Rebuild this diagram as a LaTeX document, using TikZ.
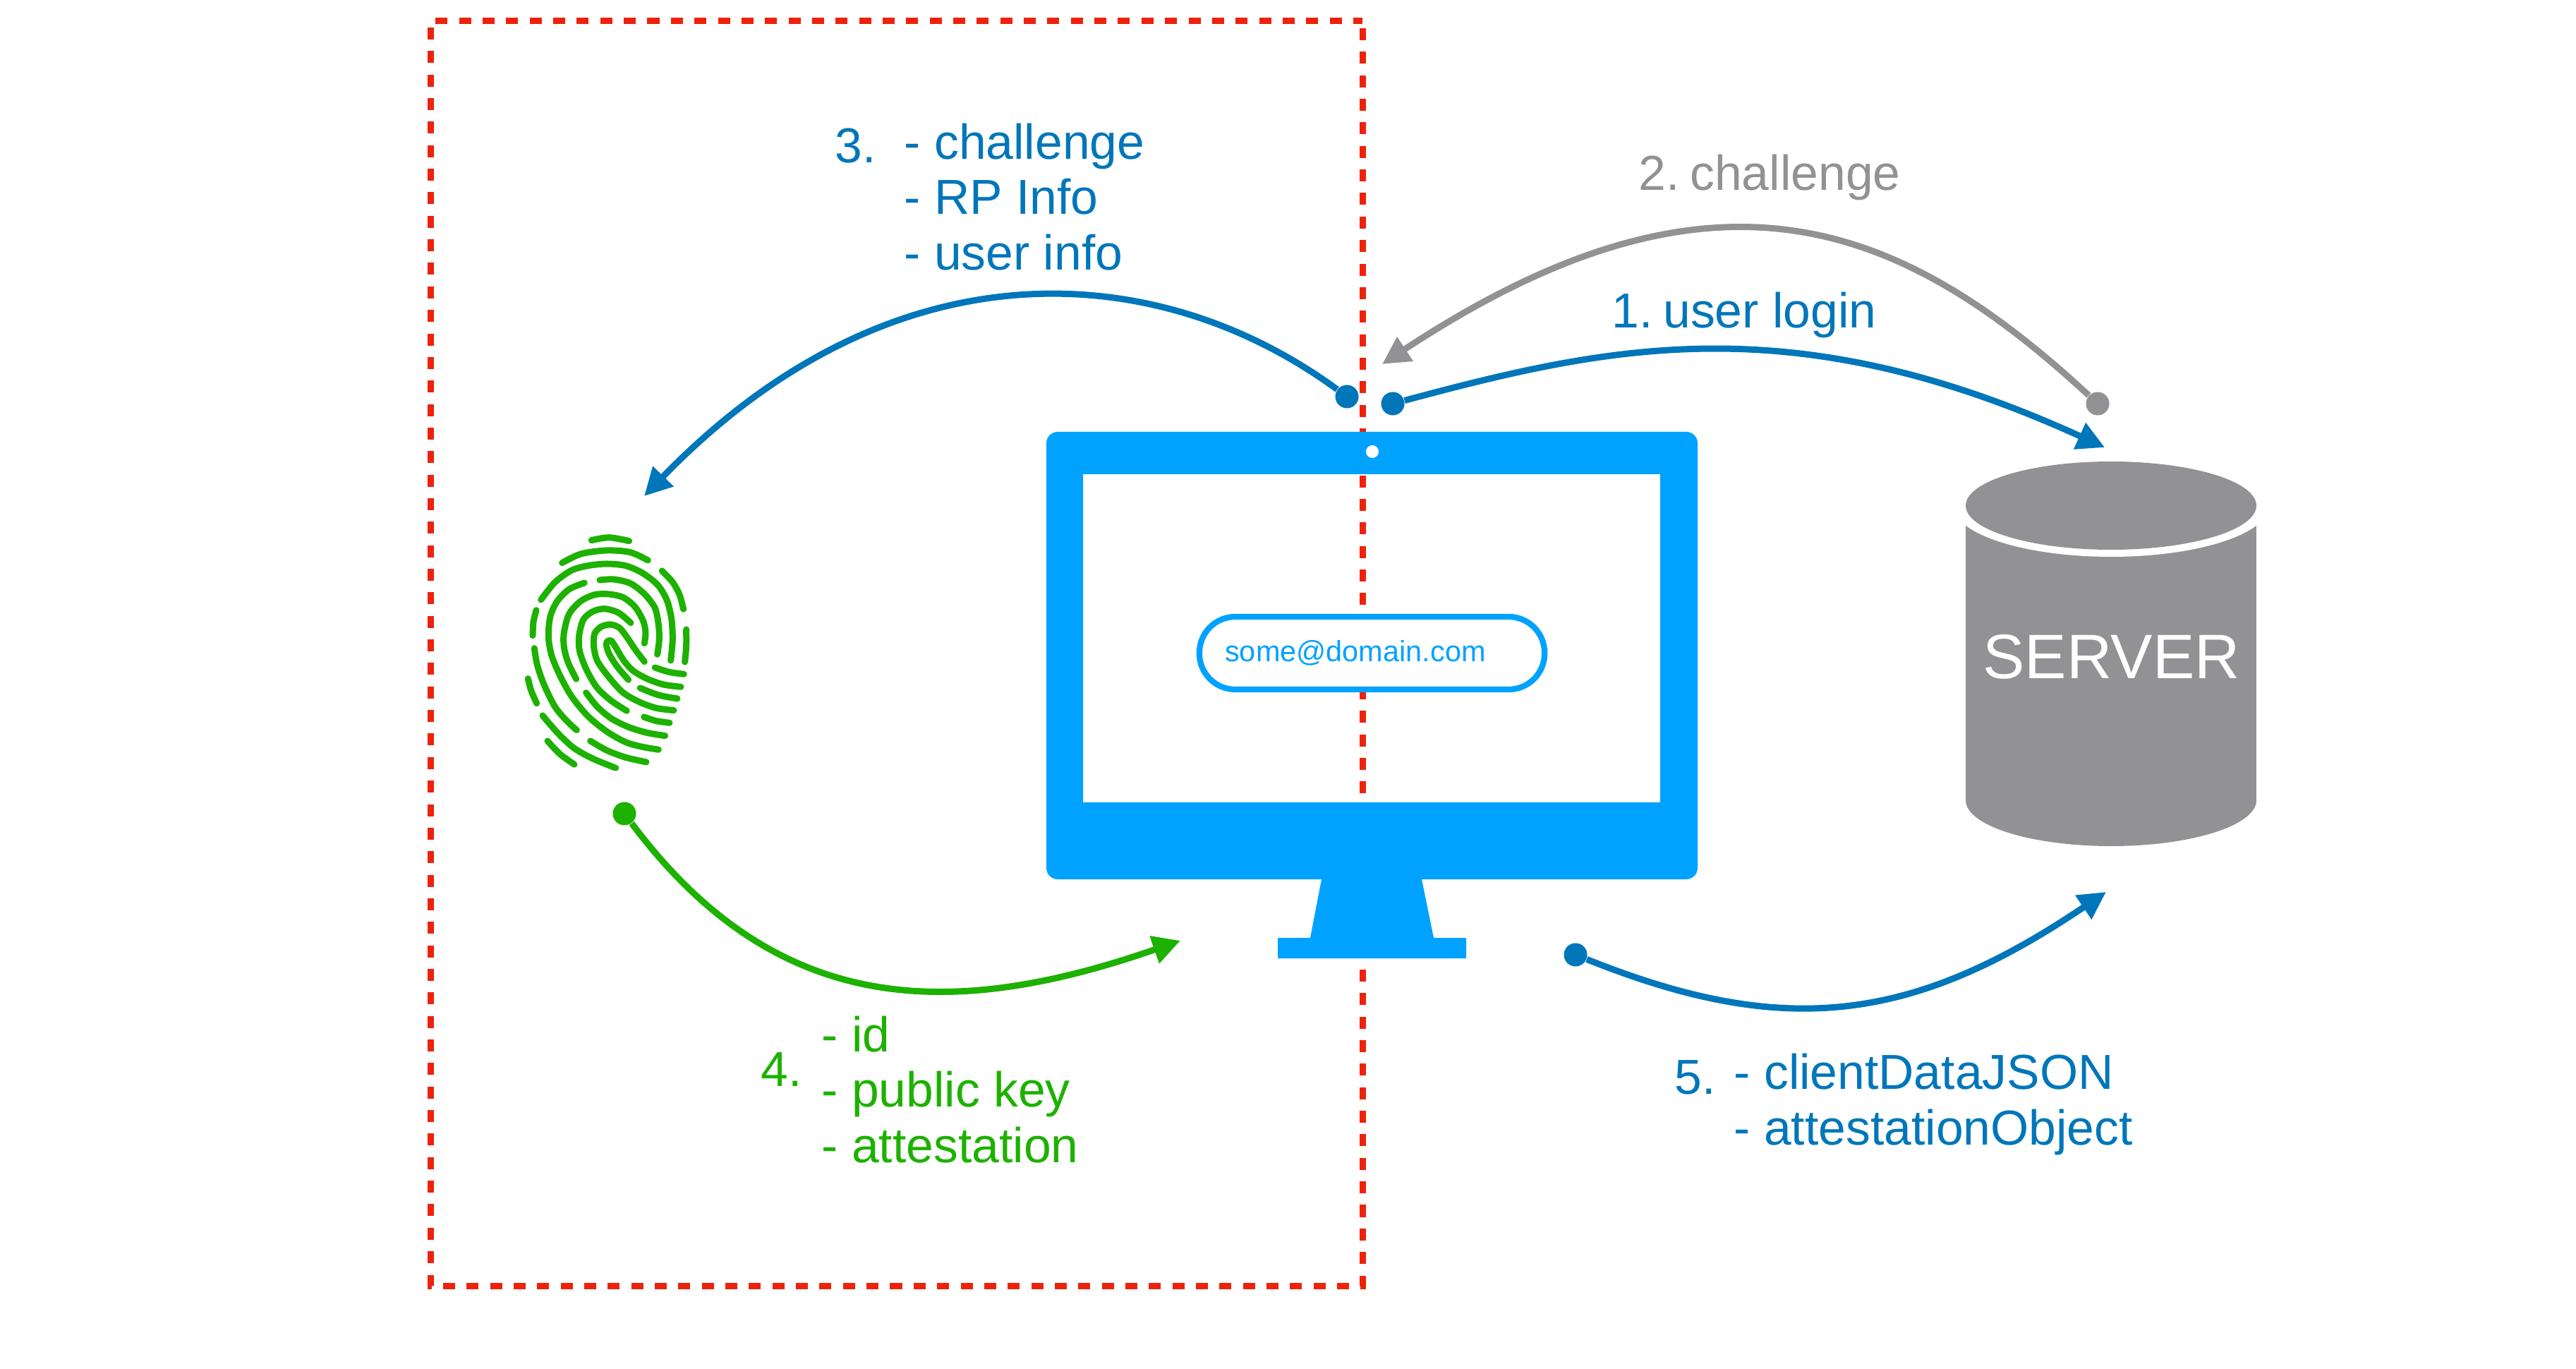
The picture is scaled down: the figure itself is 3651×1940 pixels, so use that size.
\documentclass[tikz,border=0pt]{standalone}
\usepackage{fontspec}
\setmainfont{Liberation Sans}
\usepackage{xcolor}
\usetikzlibrary{arrows.meta, positioning}
\definecolor{keyblue}{HTML}{0076BA}
\definecolor{screenblue}{HTML}{00A2FF}
\definecolor{keygreen}{HTML}{1DB100}
\definecolor{keygray}{HTML}{929295}
\definecolor{keyred}{HTML}{EE220C}

\begin{document}
\begin{tikzpicture}[
        x=0.01cm, y=-0.01cm,
        dot/.style={circle, inner sep=0pt, minimum size=0.33cm},
        arr/.style={-{Triangle[length=0.39cm, width=0.39cm]}, line width=0.09cm},
        label/.style={inner sep=0pt, anchor=west, align=left, font=\fontsize{19.8}{22.4}\selectfont},
        ridge/.style={line width=0.09cm, line cap=round, keygreen},
    ]
        \useasboundingbox (0,0) rectangle (3651,1940);

        % dashed box
        \draw[keyred, line width=0.09cm, dash pattern=on 0.17cm off 0.1633cm, dash phase=0.233cm] (1931,30) -- (1931,1822) -- (610,1822) -- (610,30) -- cycle;

        % monitor
        \fill[screenblue, even odd rule, rounded corners=0.16cm] (1483,612) rectangle (2406,1246)
            [sharp corners] (1535,672) rectangle (2353,1137);
        \fill[screenblue] (1873,1246) -- (2015,1246) -- (2032,1329) -- (2078,1329) -- (2078,1358) -- (1811,1358) -- (1811,1329) -- (1857,1329) -- cycle;
        \fill[white] (1945,640) circle (0.09cm);
        \node[draw=screenblue, fill=white, line width=0.083cm, rounded corners=0.51cm, minimum width=4.89cm, minimum height=1.03cm, text=screenblue, font=\fontsize{11.8}{14}\selectfont] (email) at (1944.5,925.5) {some@domain.com\kern0.47cm};

        % server
        \fill[keygray] (2786,716) rectangle (3198,1134);
        \fill[keygray] (2992,1134) ellipse[x radius=206, y radius=65];
        \fill[white] (2992,716) ellipse[x radius=224, y radius=73];
        \fill[keygray] (2992,716.5) ellipse[x radius=206, y radius=62.5];
        \node[text=white, inner sep=0pt, font=\fontsize{25.3}{30}\selectfont] (server) at (2992.5,931) {SERVER};

        % fingerprint
        \begin{scope}[shift={(700,720)}, scale=0.3333]
            \draw[ridge] plot[smooth] coordinates {(415,137) (490,125) (575,140)};
            \draw[ridge] plot[smooth] coordinates {(290,233) (370,195) (480,180) (580,188) (655,222)};
            \draw[ridge] plot[smooth] coordinates {(715,267) (760,315) (790,370) (806,430)};
            \draw[ridge] plot[smooth] coordinates {(200,390) (260,315) (330,265) (400,245) (480,237) (560,245) (630,275) (695,325) (735,390) (755,470) (760,560) (752,648)};
            \draw[ridge] plot[smooth] coordinates {(385,318) (320,345) (270,395) (240,460) (232,545) (245,625) (280,710) (330,800) (400,885) (480,950) (560,995) (630,1015) (700,1027)};
            \draw[ridge] plot[smooth] coordinates {(450,306) (510,303) (580,320) (640,365) (685,425) (700,495) (703,560) (695,622)};
            \draw[ridge] plot[smooth] coordinates {(350,727) (315,655) (298,590) (298,530) (320,450) (370,395) (430,368) (490,366) (550,380) (600,420) (635,480) (645,530) (640,575)};
            \draw[ridge] plot[smooth] coordinates {(565,862) (500,820) (440,765) (395,690) (365,610) (362,545) (380,475) (420,440) (470,428) (530,445) (582,488)};
            \draw[ridge] plot[smooth] coordinates {(765,860) (690,850) (620,825) (550,785) (490,720) (440,650) (425,590) (428,535) (455,505) (495,495) (535,510) (570,555) (600,600) (640,653)};
            \draw[ridge] plot[smooth] coordinates {(795,760) (720,750) (650,725) (590,690) (550,645) (520,595) (500,565) (485,565) (478,580) (490,620) (525,675) (572,730)};
            \draw[ridge] plot[smooth] coordinates {(685,678) (745,697) (808,706)};
            \draw[ridge] plot[smooth] coordinates {(622,765) (700,795) (780,810)};
            \draw[ridge] plot[smooth] coordinates {(638,888) (690,905) (747,913)};
            \draw[ridge] plot[smooth] coordinates {(392,785) (440,845) (500,895) (570,930) (650,955) (728,968)};
            \draw[ridge] plot[smooth] coordinates {(818,516) (818,590) (812,654)};
            \draw[ridge] plot[smooth] coordinates {(180,434) (168,485) (165,542)};
            \draw[ridge] plot[smooth] coordinates {(172,596) (185,670) (215,755) (260,845) (310,905) (352,944)};
            \draw[ridge] plot[smooth] coordinates {(145,725) (158,775) (182,830)};
            \draw[ridge] plot[smooth] coordinates {(207,882) (270,955) (340,1020) (420,1065) (518,1105)};
            \draw[ridge] plot[smooth] coordinates {(228,990) (280,1045) (342,1090)};
            \draw[ridge] plot[smooth] coordinates {(410,990) (480,1030) (560,1060) (648,1080)};
        \end{scope}

        % dots and arrow ends
        \node[dot, fill=keyblue] (loginFrom) at (1974,572) {};
        \node[dot, fill=keygray] (challengeFrom) at (2973,572) {};
        \node[dot, fill=keyblue] (infoFrom) at (1909,562) {};
        \node[dot, fill=keygreen] (keyFrom) at (885,1153) {};
        \node[dot, fill=keyblue] (dataFrom) at (2233,1353) {};
        \coordinate (loginTo) at (2983,634);
        \coordinate (challengeTo) at (1959,516);
        \coordinate (infoTo) at (913,703);
        \coordinate (keyTo) at (1673,1333);
        \coordinate (dataTo) at (2985,1264);

        \draw[arr, keyblue] (loginFrom) .. controls (2280,490) and (2540,432) .. (loginTo);
        \draw[arr, keygray] (challengeFrom) .. controls (2690,310) and (2426,208) .. (challengeTo);
        \draw[arr, keyblue] (infoFrom) .. controls (1640,365) and (1265,340) .. (infoTo);
        \draw[arr, keygreen] (keyFrom) .. controls (1100,1440) and (1345,1447) .. (keyTo);
        \draw[arr, keyblue] (dataFrom) .. controls (2525,1470) and (2707,1452) .. (dataTo);

        % labels
        \node[label, text=keygray] (challengeText) at (2322,252) {2.\kern-0.16em{} challenge};
        \node[label, text=keyblue] (loginText) at (2284,447) {1.\kern-0.16em{} user login};
        \node[label, text=keyblue] (infoNum) at (1183,207) {3.};
        \node[label, text=keyblue] (infoText) at (1281,279) {- challenge\\- RP Info\\- user info};
        \node[label, text=keygreen] (keyNum) at (1078,1516) {4.};
        \node[label, text=keygreen] (keyText) at (1164,1544) {- id\\- public key\\- attestation};
        \node[label, text=keyblue] (dataNum) at (2373,1527) {5.};
        \node[label, text=keyblue] (dataText) at (2457,1565) {- clientDataJSON\\- attestationObject};
    \end{tikzpicture}
\end{document}
